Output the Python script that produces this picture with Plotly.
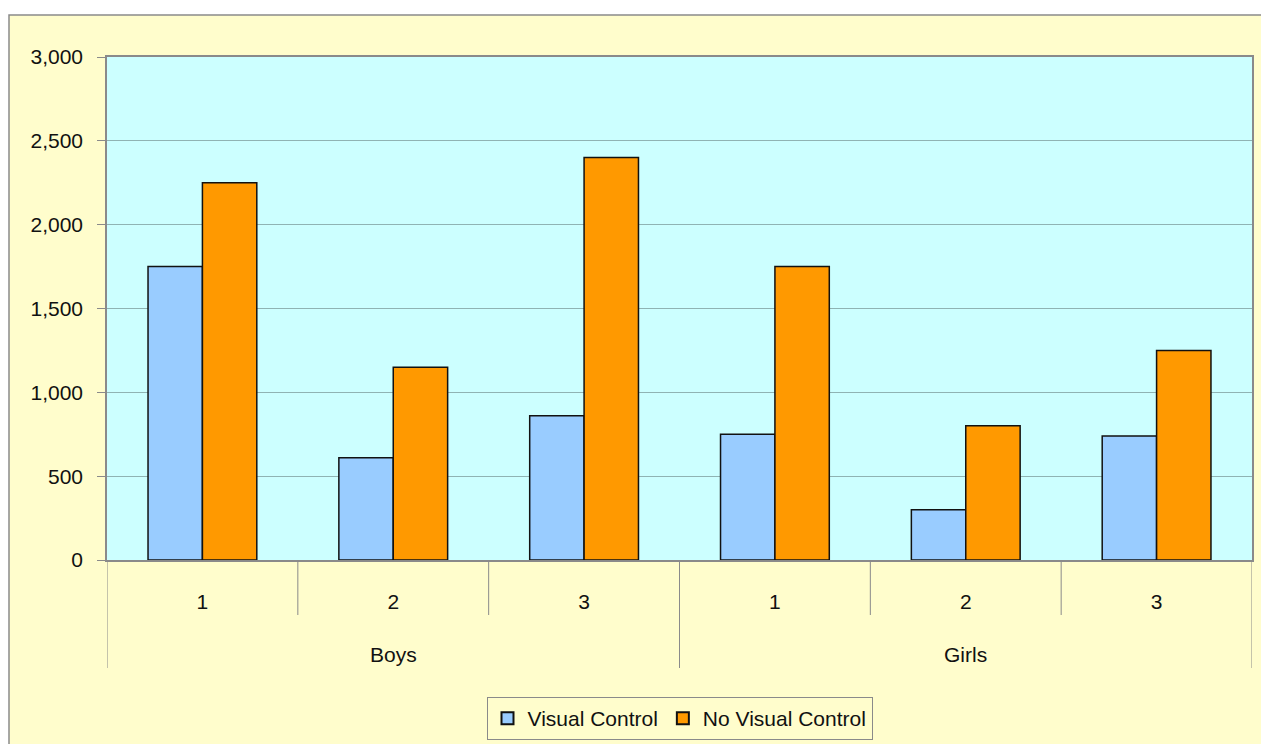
import plotly.graph_objects as go

# Data
groups = ["Boys", "Girls"]
sub_labels = ["1", "2", "3", "1", "2", "3"]
visual_control = [1750, 610, 860, 750, 300, 740]
no_visual_control = [2250, 1150, 2400, 1750, 800, 1250]

FONT = "Liberation Sans, Arial, sans-serif"
FS = 21
PAPER_YELLOW = "#FFFDCC"
PLOT_CYAN = "#CCFFFF"
FRAME = "#8A8A8A"

W, H = 1261, 744
ML, MR, MT, MB = 107, 9, 57, 184
plot_w = W - ML - MR
plot_h = H - MT - MB

x_pos = list(range(len(sub_labels)))

fig = go.Figure()
fig.add_trace(go.Bar(
    x=x_pos, y=visual_control, name="Visual Control",
    marker=dict(color="#99CCFF", line=dict(color="#111111", width=1.5)),
))
fig.add_trace(go.Bar(
    x=x_pos, y=no_visual_control, name="No Visual Control",
    marker=dict(color="#FF9900", line=dict(color="#111111", width=1.5)),
))

shapes = []
# chart-area background with its border
shapes.append(dict(
    type="rect", xref="paper", yref="paper", layer="below",
    x0=(9 - ML) / plot_w, x1=1.5, y0=-1.0, y1=(H - MB - 15) / plot_h,
    fillcolor=PAPER_YELLOW, line=dict(color=FRAME, width=1.5),
))
# plot-area background
shapes.append(dict(
    type="rect", xref="paper", yref="paper", layer="below",
    x0=0, x1=1, y0=0, y1=1, fillcolor=PLOT_CYAN, line=dict(width=0),
))

# dividers under the category axis
n_per_group = 3
for i in range(len(sub_labels) + 1):
    xb = i - 0.5
    outer = (i % n_per_group == 0)
    depth = 108 if outer else 55
    shapes.append(dict(
        type="line", xref="x", yref="paper", layer="above",
        x0=xb, x1=xb, y0=0, y1=-depth / plot_h,
        line=dict(color=FRAME, width=1),
    ))

annotations = []
for g, name in enumerate(groups):
    annotations.append(dict(
        x=g * n_per_group + (n_per_group - 1) / 2, y=-(654 - (H - MB)) / plot_h,
        xref="x", yref="paper", text=name, showarrow=False,
        font=dict(family=FONT, size=FS, color="#111111"),
        xanchor="center", yanchor="middle",
    ))

fig.update_layout(
    width=W, height=H,
    margin=dict(l=ML, r=MR, t=MT, b=MB, autoexpand=False),
    paper_bgcolor="white",
    plot_bgcolor="rgba(0,0,0,0)",
    barmode="group", bargap=0.43, bargroupgap=0,
    font=dict(family=FONT, size=FS, color="#111111"),
    shapes=shapes,
    annotations=annotations,
    showlegend=True,
    legend=dict(
        orientation="h", x=0.5, xanchor="center",
        yref="container", y=1 - 697 / H, yanchor="top",
        bgcolor=PAPER_YELLOW, bordercolor=FRAME, borderwidth=1,
        font=dict(family=FONT, size=FS, color="#111111"),
        itemsizing="constant",
    ),
    xaxis=dict(
        range=[-0.5, len(sub_labels) - 0.5],
        tickmode="array", tickvals=x_pos, ticktext=sub_labels,
        ticks="", showgrid=False, zeroline=False,
        showline=True, linecolor=FRAME, linewidth=1.5, mirror=True,
        ticklabelstandoff=22,
        tickfont=dict(family=FONT, size=FS, color="#111111"),
    ),
    yaxis=dict(
        range=[0, 3000], dtick=500, tickformat=",d",
        ticks="outside", ticklen=8, tickcolor=FRAME,
        showgrid=True, gridcolor="#8FB3B3", gridwidth=1,
        zeroline=False,
        showline=True, linecolor=FRAME, linewidth=1.5, mirror=True,
        ticklabelstandoff=10,
        tickfont=dict(family=FONT, size=FS, color="#111111"),
    ),
)

fig.write_html("out.html")
